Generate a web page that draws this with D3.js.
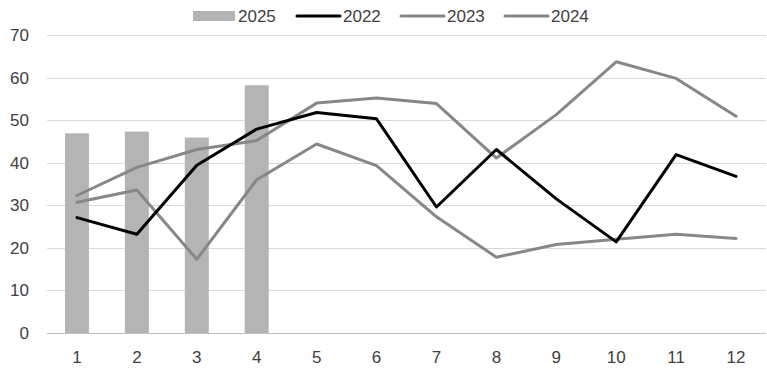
<!DOCTYPE html>
<html>
<head>
<meta charset="utf-8">
<script src="https://cdn.jsdelivr.net/npm/d3@7"></script>
<style>
  html, body { margin: 0; padding: 0; background: #fff; }
  svg { display: block; font-family: "Liberation Sans", Arial, sans-serif; }
</style>
</head>
<body>
<div id="chart"></div>
<script>
// chart data
const months = [1, 2, 3, 4, 5, 6, 7, 8, 9, 10, 11, 12];
const bars2025 = [46.9, 47.3, 45.9, 58.2];
const line2022 = [27.1, 23.2, 39.4, 47.9, 51.8, 50.3, 29.6, 43.1, 31.5, 21.4, 41.9, 36.8];
const line2023 = [30.7, 33.6, 17.3, 36.0, 44.4, 39.3, 27.3, 17.8, 20.8, 22.0, 23.2, 22.2];
const line2024 = [32.3, 38.9, 43.1, 45.2, 54.0, 55.2, 53.9, 41.1, 51.3, 63.7, 59.8, 50.9];
const yTicks = [0, 10, 20, 30, 40, 50, 60, 70];

const width = 767, height = 372;
const margin = { top: 35, right: 1, bottom: 39, left: 47 };

const svg = d3.select("#chart").append("svg")
    .attr("width", width)
    .attr("height", height);

const x = d3.scaleBand()
    .domain(months)
    .range([margin.left, width - margin.right])
    .paddingInner(0.6)
    .paddingOuter(0.3);

const xc = d => x(d) + x.bandwidth() / 2;

const y = d3.scaleLinear()
    .domain([0, 70])
    .range([height - margin.bottom, margin.top]);

// gridlines
svg.append("g")
    .selectAll("line")
    .data(yTicks)
    .enter()
    .append("line")
    .attr("x1", margin.left)
    .attr("x2", width - margin.right)
    .attr("y1", d => Math.round(y(d)) + 0.5)
    .attr("y2", d => Math.round(y(d)) + 0.5)
    .attr("stroke", d => d === 0 ? "#bfbfbf" : "#d9d9d9")
    .attr("stroke-width", 1);

// y axis labels
svg.append("g")
    .selectAll("text")
    .data(yTicks)
    .enter()
    .append("text")
    .attr("x", 29)
    .attr("y", d => y(d) + 6)
    .attr("text-anchor", "end")
    .style("font-size", "17px")
    .style("fill", "#404040")
    .text(d => d);

// x axis labels
svg.append("g")
    .selectAll("text")
    .data(months)
    .enter()
    .append("text")
    .attr("x", d => xc(d))
    .attr("y", 363)
    .attr("text-anchor", "middle")
    .style("font-size", "17px")
    .style("fill", "#404040")
    .text(d => d);

// 2025 bars
svg.append("g")
    .selectAll("rect")
    .data(bars2025)
    .enter()
    .append("rect")
    .attr("x", (d, i) => x(months[i]))
    .attr("width", x.bandwidth())
    .attr("y", d => y(d))
    .attr("height", d => y(0) - y(d))
    .attr("fill", "#b4b4b4");

// lines
const lineGen = d3.line()
    .x((d, i) => xc(months[i]))
    .y(d => y(d));

const series = [
    { name: "2023", values: line2023, color: "#878787" },
    { name: "2024", values: line2024, color: "#878787" },
    { name: "2022", values: line2022, color: "#000000" }
];

svg.append("g")
    .selectAll("path")
    .data(series)
    .enter()
    .append("path")
    .attr("d", d => lineGen(d.values))
    .attr("fill", "none")
    .attr("stroke", d => d.color)
    .attr("stroke-width", 3)
    .attr("stroke-linejoin", "round")
    .attr("stroke-linecap", "round");

// legend
const legend = svg.append("g");
legend.append("rect")
    .attr("x", 193).attr("y", 11)
    .attr("width", 42).attr("height", 10)
    .attr("fill", "#b4b4b4");
legend.append("text")
    .attr("x", 238).attr("y", 22)
    .style("font-size", "17px").style("fill", "#404040")
    .text("2025");

const legendLines = [
    { name: "2022", color: "#000000", x1: 297 },
    { name: "2023", color: "#878787", x1: 401 },
    { name: "2024", color: "#878787", x1: 505 }
];
legendLines.forEach(l => {
    legend.append("line")
        .attr("x1", l.x1).attr("x2", l.x1 + 43)
        .attr("y1", 16).attr("y2", 16)
        .attr("stroke", l.color)
        .attr("stroke-width", 3)
        .attr("stroke-linecap", "round");
    legend.append("text")
        .attr("x", l.x1 + 46).attr("y", 22)
        .style("font-size", "17px").style("fill", "#404040")
        .text(l.name);
});
</script>
</body>
</html>
